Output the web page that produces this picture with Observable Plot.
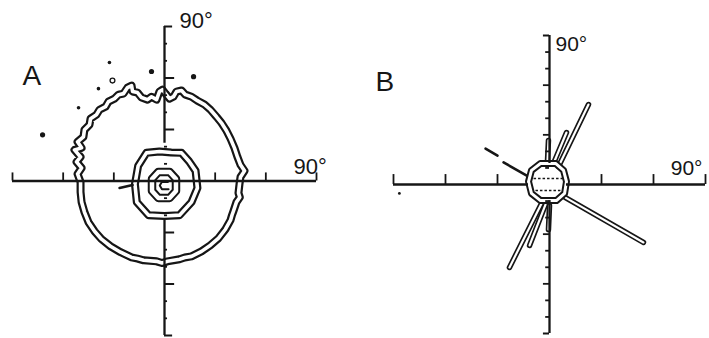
<!DOCTYPE html>
<html>
<head>
<meta charset="utf-8">
<script src="https://cdn.jsdelivr.net/npm/d3@7"></script>
<script src="https://cdn.jsdelivr.net/npm/@observablehq/plot@0.6"></script>
<style>
  body { margin: 0; background: #fff; }
  #fig { position: relative; width: 709px; height: 338px; overflow: hidden; background: #fff; }
  #fig svg { position: absolute; top: 0; }
</style>
</head>
<body>
<div id="fig"></div>
<script>
// Angular axes in degrees, ±90° both ways
const hTicks = [-90, -60, -30, 30, 60, 90];
const vMajor = [-60, -30, 30, 60];
const vMinor = [-80, -70, -50, -40, -20, -10, 10, 20, 40, 50, 70, 80];
const vCaps = [-90, 90];

// Panel A: outer (double) contour, [x°, y°] vertices
const outerA = [
  [-49.7,-0.6],[-51.5,4.1],[-49.1,7.6],[-52.1,11.1],[-49.7,14.0],[-53.3,18.1],[-49.1,19.3],
  [-51.5,22.8],[-48.0,25.7],[-47.4,29.8],[-44.4,32.8],[-43.8,36.3],[-40.3,38.6],[-38.5,41.5],
  [-34.9,43.3],[-33.2,46.2],[-29.6,48.0],[-27.2,50.3],[-24.3,50.9],[-21.9,54.4],[-19.5,55.6],
  [-18.9,52.1],[-16.0,51.5],[-13.6,48.6],[-10.1,47.4],[-7.7,49.1],[-4.7,47.4],[-3.0,52.1],
  [-1.2,53.2],[0.6,50.9],[3.0,48.0],[5.3,49.1],[7.1,52.1],[10.1,52.7],[12.4,50.3],[16.0,49.1],
  [19.5,46.8],[23.7,44.5],[27.2,41.5],[30.8,37.4],[33.7,33.9],[36.7,29.3],[39.1,24.6],
  [41.4,19.3],[43.2,14.0],[45.0,9.4],[47.4,5.9],[45.0,2.3],[44.4,-1.8],[43.8,-7.0],[44.6,-9.5],
  [42.6,-12.3],[40.8,-17.6],[40.0,-19.8],[39.1,-22.8],[36.1,-28.1],[32.0,-33.3],[27.2,-37.4],
  [21.9,-41.0],[16.0,-43.9],[12.0,-44.6],[8.9,-45.6],[1.8,-46.8],[-1.5,-47.8],[-4.7,-46.8],
  [-12.4,-46.2],[-16.0,-45.2],[-19.5,-44.5],[-26.0,-41.5],[-32.0,-38.0],[-37.3,-33.9],
  [-41.4,-29.3],[-45.0,-24.0],[-47.4,-18.1],[-49.1,-12.3],[-49.7,-6.4]
];
// Panel A: central polygonal (double) contour
const octA = [
  [-10.7,16.4],[-3.0,17.2],[4.0,16.6],[10.1,16.4],[14.5,11.5],[18.4,5.9],[19.5,-4.1],
  [16.0,-12.3],[8.9,-19.9],[0.0,-20.4],[-9.5,-19.9],[-16.4,-12.3],[-17.5,-1.8],[-15.6,8.8]
];
// Panel A: inner (double) contour
const innerA = [
  [-3.6,5.3],[3.0,5.3],[6.8,1.2],[6.8,-5.8],[3.0,-9.9],[-3.6,-9.9],[-7.4,-5.8],[-7.4,1.2]
];
// Panel A: peak contour and left tail
const coreA = [[2.0,-0.6],[-1.5,-0.4],[-2.8,-2.6],[-1.5,-4.8],[2.4,-4.8]];
const tailA = [[-26.6,-4.1],[-18.9,-2.3]];
// Panel A: isolated points
const dotsLargeA = [[-7.7,63.8],[17.2,60.8],[-72.2,26.9]];
const dotsSmallA = [[-32.6,69.0],[-39.1,53.8],[-50.9,42.7]];
const ringDotsA = [[-30.8,58.5]];
// Panel A: vertical axis runs (gap across the centre)
const vSegA = [[90, 22], [-23, -90]];

// Panel B: central (double) contour
const ringB = [
  [-5.2,12.7],[3.5,12.7],[8.1,8.5],[9.8,1.8],[8.7,-5.4],[4.0,-9.7],[-5.2,-9.7],
  [-10.4,-5.4],[-12.1,1.8],[-10.4,8.5]
];
const hatchB = [
  {x1: -9.2, y1: 3.6, x2: 7.5, y2: 3.6},
  {x1: -8.1, y1: -3.6, x2: 6.3, y2: -3.6}
];
// Panel B: elongated lobes, base → tip
const spikesB = [
  {x1: 5.2,  y1: 10.9,  x2: 22.5,  y2: 48.3},
  {x1: 2.3,  y1: 12.7,  x2: 9.8,   y2: 31.4},
  {x1: -1.2, y1: 13.3,  x2: -0.6,  y2: 26.6},
  {x1: 9.2,  y1: -7.9,  x2: 54.2,  y2: -35.0},
  {x1: -4.6, y1: -11.5, x2: -23.1, y2: -50.1},
  {x1: -2.3, y1: -12.1, x2: -11.5, y2: -36.8},
  {x1: 0.0,  y1: -12.7, x2: -0.6,  y2: -27.2}
];
const dashB = [
  {x1: -36.9, y1: 21.7, x2: -30.0, y2: 17.5},
  {x1: -26.5, y1: 13.3, x2: -12.1, y2: 4.8}
];
const dotsB = [[-86.6,-5.4]];
const hSegB = [[-90, -12.1], [9.8, 90]];
const vSegB = [[90, 12.7], [-9.7, -90]];

const ink = "#161616";
const font = "Liberation Sans, Arial, Helvetica, sans-serif";
const px = d => d[0], py = d => d[1];

// A double-stroked contour: dark casing with a white core
function doubleLine(data, outer, inner) {
  return [
    Plot.line(data, {x: px, y: py, curve: "linear-closed", stroke: ink, strokeWidth: outer, strokeLinejoin: "round"}),
    Plot.line(data, {x: px, y: py, curve: "linear-closed", stroke: "white", strokeWidth: inner, strokeLinejoin: "round"})
  ];
}

const plotA = Plot.plot({
  width: 354, height: 338,
  marginLeft: 12, marginRight: 38, marginTop: 26, marginBottom: 3,
  x: {domain: [-90, 90], axis: null},
  y: {domain: [-90, 90], axis: null},
  style: {background: "transparent", fontFamily: font, color: ink},
  marks: [
    ...doubleLine(outerA, 8, 3.6),
    ...doubleLine(octA, 8, 3.6),
    ...doubleLine(innerA, 8.5, 4.5),
    Plot.line(coreA, {x: px, y: py, stroke: ink, strokeWidth: 2}),
    Plot.line(tailA, {x: px, y: py, stroke: ink, strokeWidth: 2.6}),
    // axes
    Plot.ruleY([0], {x1: -90, x2: 90, stroke: ink, strokeWidth: 2.3}),
    Plot.ruleX(vSegA, {x: 0, y1: d => d[0], y2: d => d[1], stroke: ink, strokeWidth: 2.3}),
    Plot.ruleX(hTicks, {x: d => d, y1: 0, y2: 4.7, stroke: ink, strokeWidth: 1.8}),
    Plot.ruleY(vMajor, {y: d => d, x1: 0, x2: 6, stroke: ink, strokeWidth: 2}),
    Plot.ruleY(vMinor, {y: d => d, x1: 0, x2: 1.8, stroke: ink, strokeWidth: 1.8}),
    Plot.ruleY(vCaps, {y: d => d, x1: 0, x2: 4.8, stroke: ink, strokeWidth: 2}),
    // isolated points
    Plot.dot(dotsLargeA, {x: px, y: py, r: 2.6, fill: ink}),
    Plot.dot(dotsSmallA, {x: px, y: py, r: 1.8, fill: ink}),
    Plot.dot(ringDotsA, {x: px, y: py, r: 2.4, stroke: ink, strokeWidth: 1.3, fill: "none"}),
    // labels
    Plot.text(["90°"], {x: 0, y: 90, text: d => d, dx: 15, dy: 1.5, textAnchor: "start", lineAnchor: "bottom", fontSize: 22, fill: ink, fontFamily: font}),
    Plot.text(["90°"], {x: 90, y: 0, text: d => d, dx: -23, dy: -7.5, textAnchor: "start", lineAnchor: "bottom", fontSize: 22, fill: ink, fontFamily: font}),
    Plot.text(["A"], {frameAnchor: "top-left", text: d => d, dx: 10, dy: 58, textAnchor: "start", lineAnchor: "bottom", fontSize: 28, fill: ink, fontFamily: font, ariaLabel: "panel label"})
  ]
});

const plotB = Plot.plot({
  width: 355, height: 338,
  marginLeft: 39, marginRight: 4, marginTop: 35, marginBottom: 5,
  x: {domain: [-90, 90], axis: null},
  y: {domain: [-90, 90], axis: null},
  style: {background: "transparent", fontFamily: font, color: ink},
  marks: [
    // lobes as double-stroked strokes
    Plot.link(spikesB, {x1: "x1", y1: "y1", x2: "x2", y2: "y2", stroke: ink, strokeWidth: 5.5, strokeLinecap: "round"}),
    Plot.link(spikesB, {x1: "x1", y1: "y1", x2: "x2", y2: "y2", stroke: "white", strokeWidth: 2.2, strokeLinecap: "round"}),
    Plot.link(dashB, {x1: "x1", y1: "y1", x2: "x2", y2: "y2", stroke: ink, strokeWidth: 2.6, strokeLinecap: "round"}),
    ...doubleLine(ringB, 7, 3),
    Plot.link(hatchB, {x1: "x1", y1: "y1", x2: "x2", y2: "y2", stroke: ink, strokeWidth: 1.6, strokeDasharray: "2.5,2"}),
    // axes
    Plot.ruleY(hSegB, {y: 0, x1: d => d[0], x2: d => d[1], stroke: ink, strokeWidth: 2.3}),
    Plot.ruleX(vSegB, {x: 0, y1: d => d[0], y2: d => d[1], stroke: ink, strokeWidth: 2.3}),
    Plot.ruleX(hTicks, {x: d => d, y1: 0, y2: 6, stroke: ink, strokeWidth: 1.8}),
    Plot.ruleY(vMajor, {y: d => d, x1: 0, x2: -3.5, stroke: ink, strokeWidth: 1.8}),
    Plot.ruleY(vMinor, {y: d => d, x1: 0, x2: -2.2, stroke: ink, strokeWidth: 1.8}),
    Plot.ruleY(vCaps, {y: d => d, x1: 0, x2: -3.5, stroke: ink, strokeWidth: 2}),
    Plot.dot(dotsB, {x: px, y: py, r: 1.4, fill: ink}),
    // labels
    Plot.text(["90°"], {x: 0, y: 90, text: d => d, dx: 6, dy: 15, textAnchor: "start", lineAnchor: "bottom", fontSize: 21, fill: ink, fontFamily: font}),
    Plot.text(["90°"], {x: 90, y: 0, text: d => d, dx: -3, dy: -10, textAnchor: "end", lineAnchor: "bottom", fontSize: 21, fill: ink, fontFamily: font}),
    Plot.text(["B"], {frameAnchor: "top-left", text: d => d, dx: -18, dy: 55, textAnchor: "start", lineAnchor: "bottom", fontSize: 28, fill: ink, fontFamily: font, ariaLabel: "panel label"})
  ]
});

const fig = document.getElementById("fig");
plotA.style.left = "0px";
plotB.style.left = "354px";
fig.appendChild(plotA);
fig.appendChild(plotB);

// widen the panel letters about their left edge
for (const [svg, s] of [[plotA, 1.3], [plotB, 1.15]]) {
  d3.select(svg).selectAll("g[aria-label='panel label'] text").each(function () {
    const b = this.getBBox();
    const t = this.getAttribute("transform") || "";
    this.setAttribute("transform", `${t} translate(${b.x},0) scale(${s},1) translate(${-b.x},0)`);
  });
}
</script>
</body>
</html>
